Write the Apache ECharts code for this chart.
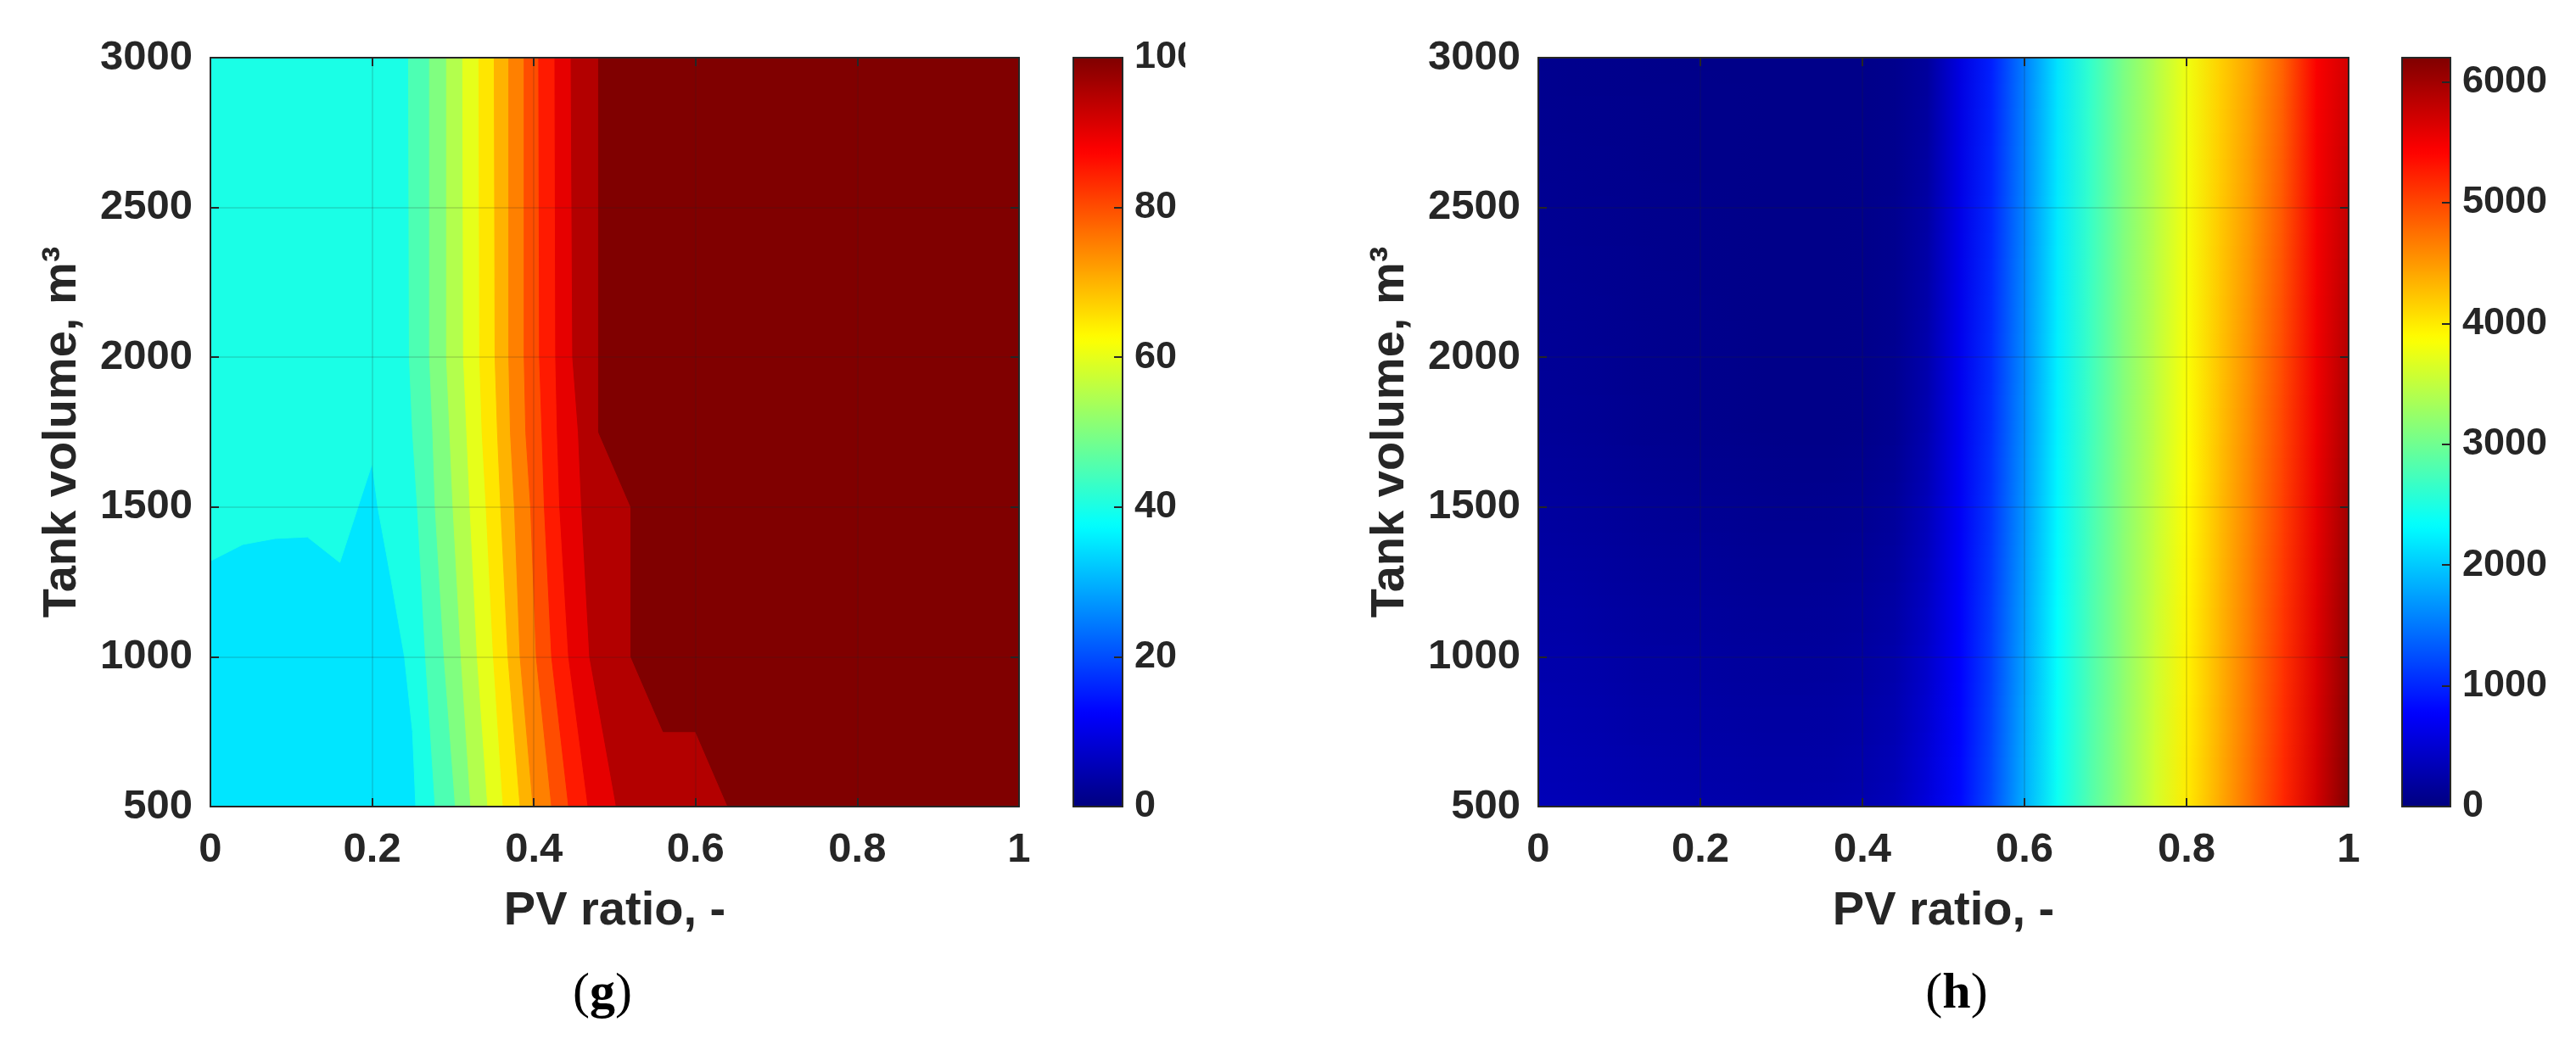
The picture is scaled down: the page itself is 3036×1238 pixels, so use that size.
<!DOCTYPE html>
<html>
<head>
<meta charset="utf-8">
<title>PV ratio / Tank volume</title>
<script src="https://cdn.jsdelivr.net/npm/echarts@6.0.0/dist/echarts.min.js"></script>
<style>
    html, body { margin: 0; padding: 0; background: #fff; }
    #main { width: 3036px; height: 1238px; }
</style>
</head>
<body>
<div id="main"></div>
<script>
    // ---- (g) 等值线图数据 ----
    // 每个色带对应的值（颜色取 jet 色表 0~100）
    let bandLevels = [35, 40, 45, 50, 55, 60, 65, 70, 75, 80, 85, 90, 95, 100];
    // 每个色带的左/下边界线 [PV ratio, Tank volume]，从上往下
    let levelEdges = [
        [[0, 3000], [0, 500]],
        [[0, 3000], [0, 1320], [0.04, 1375], [0.08, 1395], [0.12, 1400], [0.16, 1315], [0.2, 1645], [0.207, 1500], [0.224, 1250], [0.24, 1000], [0.25, 750], [0.254, 500]],
        [[0.245, 3000], [0.246, 2000], [0.250, 1750], [0.256, 1500], [0.266, 1000], [0.278, 500]],
        [[0.271, 3000], [0.271, 2000], [0.275, 1750], [0.278, 1500], [0.289, 1000], [0.303, 500]],
        [[0.292, 3000], [0.292, 2000], [0.296, 1750], [0.300, 1500], [0.310, 1000], [0.322, 500]],
        [[0.312, 3000], [0.313, 2000], [0.317, 1750], [0.321, 1500], [0.330, 1000], [0.343, 500]],
        [[0.332, 3000], [0.333, 2000], [0.336, 1750], [0.341, 1500], [0.350, 1000], [0.362, 500]],
        [[0.351, 3000], [0.352, 2000], [0.355, 1750], [0.359, 1500], [0.368, 1000], [0.383, 500]],
        [[0.369, 3000], [0.369, 2000], [0.371, 1750], [0.376, 1500], [0.383, 1000], [0.399, 500]],
        [[0.388, 3000], [0.388, 2000], [0.390, 1750], [0.396, 1500], [0.403, 1000], [0.422, 500]],
        [[0.406, 3000], [0.407, 2000], [0.410, 1750], [0.413, 1500], [0.422, 1000], [0.443, 500]],
        [[0.426, 3000], [0.427, 2000], [0.429, 1750], [0.432, 1500], [0.443, 1000], [0.467, 500]],
        [[0.446, 3000], [0.448, 2000], [0.455, 1750], [0.459, 1500], [0.469, 1000], [0.502, 500]],
        [[0.48, 3000], [0.48, 1750], [0.52, 1500], [0.52, 1000], [0.56, 750], [0.60, 750], [0.64, 500]]
    ];

    // ---- (h) 渐变图数据 ----
    let pvRatio = [0, 0.04, 0.08, 0.12, 0.16, 0.2, 0.24, 0.28, 0.32, 0.36, 0.4, 0.44, 0.48,
        0.52, 0.56, 0.6, 0.64, 0.68, 0.72, 0.76, 0.8, 0.84, 0.88, 0.92, 0.96, 1];
    let heatVolume = [500, 1750, 3000];
    let heatRow500 = [340, 330, 310, 290, 280, 270, 260, 250, 250, 260, 290, 360, 560,
        820, 1250, 1850, 2400, 2820, 3200, 3600, 4000, 4380, 4780, 5200, 5700, 6200];
    let heatRow1750 = [150, 140, 120, 100, 90, 80, 70, 60, 55, 55, 65, 110, 300,
        690, 1080, 1650, 2250, 2700, 3120, 3480, 3860, 4250, 4620, 5030, 5520, 5950];
    let heatRow3000 = [90, 80, 75, 70, 65, 60, 60, 55, 55, 55, 60, 80, 170,
        590, 970, 1550, 2150, 2620, 3050, 3400, 3780, 4150, 4450, 4850, 5450, 5700];
    let heatRows = [heatRow500, heatRow1750, heatRow3000];

    // 坐标轴刻度
    let pvTicks = { min: 0, max: 1, interval: 0.2 };
    let volTicks = { min: 500, max: 3000, interval: 500 };
    let bandRange = { min: 0, max: 100, interval: 20 };
    let heatRange = { min: 0, max: 6200, interval: 1000 };

    let textColor = '#262626';
    let fontFamily = '"Liberation Sans", Arial, sans-serif';
    let plainNumber = function (v) { return String(v); };  // 不要千分位

    // jet 色表
    function jet(t) {
        t = Math.max(0, Math.min(1, t));
        let c = function (v) { return Math.round(255 * Math.max(0, Math.min(1, v))); };
        let r = c(Math.min(4 * t - 1.5, -4 * t + 4.5));
        let g = c(Math.min(4 * t - 0.5, -4 * t + 3.5));
        let b = c(Math.min(4 * t + 0.5, -4 * t + 2.5));
        return 'rgb(' + r + ',' + g + ',' + b + ')';
    }
    let jetStops = [];
    for (let i = 0; i <= 8; i++) jetStops.push(jet(i / 8));

    // 主图坐标轴（带刻度标签的一侧 + 对面只画框线和刻度）
    function plotXAxis(gridIndex, labelled) {
        return {
            type: 'value', gridIndex: gridIndex, position: labelled ? 'bottom' : 'top',
            min: pvTicks.min, max: pvTicks.max, interval: pvTicks.interval, z: 10,
            name: labelled ? 'PV ratio, -' : '', nameLocation: 'middle', nameGap: 96,
            nameTextStyle: { fontSize: 56, fontWeight: 'bold', color: textColor, fontFamily: fontFamily },
            axisLine: { show: true, onZero: false, lineStyle: { color: '#262626', width: 2 } },
            axisTick: { show: true, inside: true, length: 10, lineStyle: { color: '#262626', width: 2 } },
            axisLabel: { show: labelled, margin: 27, fontSize: 49, fontWeight: 'bold', color: textColor, fontFamily: fontFamily, formatter: plainNumber },
            splitLine: { show: labelled, lineStyle: { color: 'rgba(38,38,38,0.14)', width: 2 } }
        };
    }
    function plotYAxis(gridIndex, labelled) {
        return {
            type: 'value', gridIndex: gridIndex, position: labelled ? 'left' : 'right',
            min: volTicks.min, max: volTicks.max, interval: volTicks.interval, z: 10,
            name: labelled ? 'Tank volume, m³' : '', nameLocation: 'middle', nameGap: 146,
            nameTextStyle: { fontSize: 56, fontWeight: 'bold', color: textColor, fontFamily: fontFamily },
            axisLine: { show: true, onZero: false, lineStyle: { color: '#262626', width: 2 } },
            axisTick: { show: true, inside: true, length: 10, lineStyle: { color: '#262626', width: 2 } },
            axisLabel: { show: labelled, margin: 21, fontSize: 49, fontWeight: 'bold', color: textColor, fontFamily: fontFamily, formatter: plainNumber },
            splitLine: { show: labelled, lineStyle: { color: 'rgba(38,38,38,0.14)', width: 2 } }
        };
    }
    // 色标的框线
    function barXAxis(gridIndex, pos) {
        return {
            type: 'value', gridIndex: gridIndex, position: pos, min: 0, max: 1, z: 10,
            axisLine: { show: true, onZero: false, lineStyle: { color: '#262626', width: 2 } },
            axisTick: { show: false }, axisLabel: { show: false }, splitLine: { show: false }
        };
    }
    function barYAxis(gridIndex, range, labelled) {
        return {
            type: 'value', gridIndex: gridIndex, position: labelled ? 'right' : 'left',
            min: range.min, max: range.max, interval: range.interval, z: 10,
            axisLine: { show: true, onZero: false, lineStyle: { color: '#262626', width: 2 } },
            axisTick: { show: labelled, inside: true, length: 10, lineStyle: { color: '#262626', width: 2 } },
            axisLabel: {
                show: labelled, margin: 14, fontSize: 45, fontWeight: 'bold', color: textColor, fontFamily: fontFamily,
                formatter: plainNumber, showMaxLabel: range.max % range.interval === 0
            },
            splitLine: { show: false }
        };
    }

    // (g) 一个色带 = 边界线右侧区域
    function renderBand(params, api) {
        let pts = levelEdges[params.dataIndex].concat([[1, 500], [1, 3000]]);
        let color = api.visual('color');
        return {
            type: 'polygon',
            shape: { points: pts.map(function (p) { return api.coord(p); }) },
            style: { fill: color, stroke: color, lineWidth: 1 }
        };
    }

    // (h) 一个网格单元，水平方向用渐变，竖直方向分细条
    function renderHeat(params, api) {
        let c = api.value(0), r = api.value(1);
        let x0 = pvRatio[c], x1 = pvRatio[c + 1];
        let y0 = heatVolume[r], y1 = heatVolume[r + 1];
        let n = 30, children = [];
        for (let k = 0; k < n; k++) {
            let f = (k + 0.5) / n;
            let vl = heatRows[r][c] + (heatRows[r + 1][c] - heatRows[r][c]) * f;
            let vr = heatRows[r][c + 1] + (heatRows[r + 1][c + 1] - heatRows[r][c + 1]) * f;
            let pa = api.coord([x0, y0 + (y1 - y0) * k / n]);
            let pb = api.coord([x1, y0 + (y1 - y0) * (k + 1) / n]);
            children.push({
                type: 'rect',
                shape: { x: pa[0], y: pb[1], width: pb[0] - pa[0] + 1, height: pa[1] - pb[1] + 1 },
                style: {
                    fill: new echarts.graphic.LinearGradient(0, 0, 1, 0, [
                        { offset: 0, color: jet(vl / heatRange.max) },
                        { offset: 1, color: jet(vr / heatRange.max) }
                    ])
                }
            });
        }
        return { type: 'group', children: children };
    }

    let heatCells = [];
    for (let r = 0; r < heatVolume.length - 1; r++) {
        for (let c = 0; c < pvRatio.length - 1; c++) heatCells.push([c, r]);
    }

    let myChart = echarts.init(document.getElementById('main'), null, { renderer: 'canvas' });
    let option = {
        animation: false,
        backgroundColor: '#fff',
        grid: [
            { left: 248, top: 68, width: 953, height: 883 },
            { left: 1813, top: 68, width: 955, height: 883 },
            { left: 1265, top: 68, width: 58, height: 883 },
            { left: 2831, top: 68, width: 57, height: 883 }
        ],
        xAxis: [
            plotXAxis(0, true), plotXAxis(0, false),
            plotXAxis(1, true), plotXAxis(1, false),
            barXAxis(2, 'bottom'), barXAxis(2, 'top'),
            barXAxis(3, 'bottom'), barXAxis(3, 'top')
        ],
        yAxis: [
            plotYAxis(0, true), plotYAxis(0, false),
            plotYAxis(1, true), plotYAxis(1, false),
            barYAxis(2, bandRange, false), barYAxis(2, bandRange, true),
            barYAxis(3, heatRange, false), barYAxis(3, heatRange, true)
        ],
        visualMap: [
            {
                type: 'continuous', min: bandRange.min, max: bandRange.max, dimension: 0, seriesIndex: 0,
                left: 1265, top: 68, itemWidth: 58, itemHeight: 883, padding: 0,
                calculable: false, hoverLink: false, inRange: { color: jetStops }
            },
            {
                type: 'continuous', min: heatRange.min, max: heatRange.max, dimension: 0, seriesIndex: 1,
                left: 2831, top: 68, itemWidth: 57, itemHeight: 883, padding: 0,
                calculable: false, hoverLink: false, inRange: { color: jetStops }
            }
        ],
        series: [
            {
                type: 'custom', coordinateSystem: 'cartesian2d', xAxisIndex: 0, yAxisIndex: 0,
                clip: true, silent: true, renderItem: renderBand,
                data: bandLevels.map(function (v) { return [v]; })
            },
            {
                type: 'custom', coordinateSystem: 'cartesian2d', xAxisIndex: 2, yAxisIndex: 2,
                clip: true, silent: true, renderItem: renderHeat, data: heatCells
            }
        ],
        graphic: [
            {
                type: 'text', x: 710, y: 1172, z: 100,
                style: {
                    text: '{p|(}{b|g}{p|)}', align: 'center', verticalAlign: 'middle',
                    rich: {
                        p: { fontSize: 60, fontFamily: '"Liberation Serif", serif', fill: '#000' },
                        b: { fontSize: 60, fontWeight: 'bold', fontFamily: '"Liberation Serif", serif', fill: '#000' }
                    }
                }
            },
            {
                type: 'text', x: 2306, y: 1172, z: 100,
                style: {
                    text: '{p|(}{b|h}{p|)}', align: 'center', verticalAlign: 'middle',
                    rich: {
                        p: { fontSize: 60, fontFamily: '"Liberation Serif", serif', fill: '#000' },
                        b: { fontSize: 60, fontWeight: 'bold', fontFamily: '"Liberation Serif", serif', fill: '#000' }
                    }
                }
            },
            // 原图中色标顶部的 "100" 被裁掉了一截
            { type: 'rect', left: 1397, top: 40, z: 100, shape: { width: 60, height: 60 }, style: { fill: '#fff' } }
        ]
    };
    myChart.setOption(option);
</script>
</body>
</html>
